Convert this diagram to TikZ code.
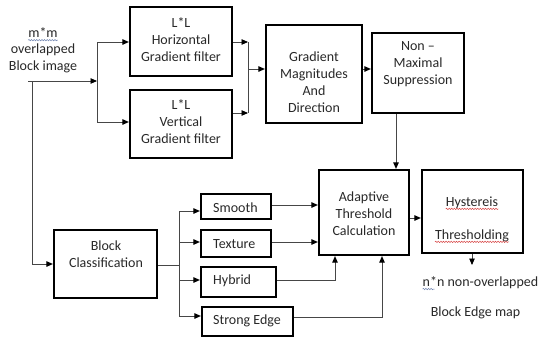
\documentclass[tikz,border=0pt]{standalone}
\usepackage{fontspec}
\setmainfont{Carlito}
\usetikzlibrary{arrows.meta,decorations.pathmorphing}
\definecolor{txt}{RGB}{40,40,40}
\definecolor{ln}{RGB}{70,70,70}
\definecolor{wred}{RGB}{215,70,70}
\definecolor{wblue}{RGB}{110,130,175}
\begin{document}
\begin{tikzpicture}[x=1pt,y=-1pt,
  font=\fontsize{14}{17}\selectfont,
  box/.style={draw=black, line width=2.2pt, inner sep=0pt},
  lbl/.style={text=txt, align=center, inner sep=0pt},
  conn/.style={draw=ln, line width=0.9pt},
  arr/.style={draw=ln, line width=0.9pt, -{Triangle[length=6.5pt,width=5.5pt,color=black]}},
  wavy/.style={decorate, decoration={snake, amplitude=0.7pt, segment length=2.6pt}, line width=0.5pt}]
\useasboundingbox (0,0) rectangle (541,338);

% boxes
\node[box, minimum width=102pt, minimum height=69pt] (H) at (181,41.5) {};
\node[box, minimum width=102pt, minimum height=68pt] (V) at (181,124) {};
\node[box, minimum width=96pt, minimum height=98pt] (G) at (314,74) {};
\node[box, minimum width=92pt, minimum height=80pt] (NMS) at (418,73) {};
\node[box, minimum width=90pt, minimum height=85pt] (A) at (364,212.5) {};
\node[box, minimum width=101pt, minimum height=83pt] (Hy) at (472.5,211.5) {};
\node[box, minimum width=103pt, minimum height=68pt] (BC) at (105.5,264) {};
\node[box, minimum width=70pt, minimum height=25pt] (Sm) at (236,206.5) {};
\node[box, minimum width=70pt, minimum height=27pt] (Tx) at (236,243.5) {};
\node[box, minimum width=75pt, minimum height=30pt] (Hb) at (238.5,282) {};
\node[box, minimum width=91pt, minimum height=29pt] (St) at (247.5,321.5) {};

% texts
\node[lbl] (in1) at (43,33) {m*m};
\node[lbl] (in2) at (43,50) {overlapped};
\node[lbl] (in3) at (43,66.5) {Block image};
\node[lbl] (Ht) at (181,39.5) {L*L\\Horizontal\\Gradient filter};
\node[lbl] (Vt) at (181,122) {L*L\\Vertical\\Gradient filter};
\node[lbl] (Gt) at (314,82.5) {Gradient\\Magnitudes\\And\\Direction};
\node[lbl] (Nt) at (418,64.5) {Non --\\Maximal\\Suppression};
\node[lbl] (At) at (364,213.5) {Adaptive\\Threshold\\Calculation};
\node[lbl] (Hy1) at (472,203) {Hystereis};
\node[lbl] (Hy2) at (472,236) {Thresholding};
\node[lbl] (BCt) at (106,254) {Block\\Classification};
\node[lbl, anchor=west] (Smt) at (213,208) {Smooth};
\node[lbl, anchor=west] (Txt) at (213,244) {Texture};
\node[lbl, anchor=west] (Hbt) at (213,281) {Hybrid};
\node[lbl, anchor=west] (Stt) at (213,321) {Strong Edge};
\node[lbl] (o1) at (480.5,283) {n*n non-overlapped};
\node[lbl] (o2) at (475.5,313) {Block Edge map};

% spell-check underlines
\draw[wavy, wblue] ([yshift=-2.2pt]in1.base west) -- ([yshift=-2.2pt]in1.base east);
\draw[wavy, wred] ([yshift=-2.2pt]Hy1.base west) -- ([yshift=-2.2pt]Hy1.base east);
\draw[wavy, wred] ([yshift=-2.2pt]Hy2.base west) -- ([yshift=-2.2pt]Hy2.base east);
\coordinate (nn1) at ([yshift=-2.2pt]o1.base west);
\draw[wavy, wblue] (nn1) -- ++(12,0);

% input connectors
\coordinate (inA) at (28,81);
\coordinate (inB) at (32,81);
\coordinate (busA) at (97,81);
\coordinate (busAt) at (97,42);
\coordinate (busAb) at (97,122);
\draw[arr] (inA) -- (busA);
\draw[conn] (busAt) -- (busAb);
\draw[arr] (busAt) -- (busAt -| H.west);
\draw[arr] (busAb) -- (busAb -| V.west);
\draw[arr] (inB) |- (BC.west);

% filters to gradient
\coordinate (busBt) at (248,42);
\coordinate (busBb) at (248,113);
\coordinate (busBm) at (248,69);
\draw[arr] (H.east |- busBt) -- (busBt);
\draw[arr] (V.east |- busBb) -- (busBb);
\draw[conn] (busBt) -- (busBb);
\draw[arr] (busBm) -- (busBm -| G.west);
\draw[arr] (G.east |- busBm) -- (NMS.west |- busBm);

% NMS to adaptive, adaptive to hysteresis, output
\coordinate (nmsx) at (396,0);
\draw[arr] (NMS.south -| nmsx) -- (A.north -| nmsx);
\coordinate (ahy) at (0,218);
\draw[arr] (A.east |- ahy) -- (Hy.west |- ahy);
\coordinate (outE) at (472,265);
\draw[arr] (Hy.south -| outE) -- (outE);

% classification
\coordinate (cbt) at (179,211);
\coordinate (cbm) at (179,265);
\coordinate (cbx) at (179,242);
\coordinate (cby) at (179,280);
\coordinate (cbb) at (179,316);
\draw[conn] (BC.east |- cbm) -- (cbm);
\draw[conn] (cbt) -- (cbb);
\draw[arr] (cbt) -- (cbt -| Sm.west);
\draw[arr] (cbx) -- (cbx -| Tx.west);
\draw[arr] (cby) -- (cby -| Hb.west);
\draw[arr] (cbb) -- (cbb -| St.west);

% classes to adaptive
\coordinate (ys) at (0,205);
\coordinate (yt) at (0,242);
\coordinate (yh) at (0,280);
\coordinate (yg) at (0,317);
\coordinate (xh) at (335,0);
\coordinate (xg) at (382,0);
\draw[arr] (Sm.east |- ys) -- (A.west |- ys);
\draw[arr] (Tx.east |- yt) -- (A.west |- yt);
\draw[arr] (Hb.east |- yh) -| (A.south -| xh);
\draw[arr] (St.east |- yg) -| (A.south -| xg);
\end{tikzpicture}
\end{document}
